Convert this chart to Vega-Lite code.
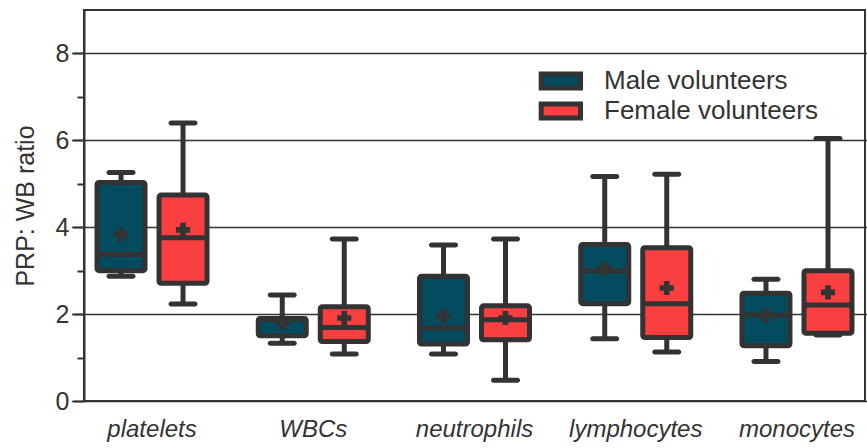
{
  "$schema": "https://vega.github.io/schema/vega-lite/v6.json",
  "width": 781,
  "height": 391,
  "autosize": {"type": "none"},
  "padding": {"left": 84, "top": 10, "right": 2, "bottom": 47},
  "background": "white",
  "config": {
    "font": "Liberation Sans",
    "view": {"stroke": "#333333", "strokeWidth": 2},
    "axis": {"labelColor": "#333333", "titleColor": "#333333"}
  },
  "data": {
    "values": [
      {"cell": "platelets", "sex": "Male volunteers", "min": 2.87, "q1": 3.0, "median": 3.37, "q3": 5.03, "max": 5.26, "mean": 3.83},
      {"cell": "platelets", "sex": "Female volunteers", "min": 2.23, "q1": 2.71, "median": 3.76, "q3": 4.74, "max": 6.4, "mean": 3.94},
      {"cell": "WBCs", "sex": "Male volunteers", "min": 1.33, "q1": 1.5, "median": 1.88, "q3": 1.9, "max": 2.44, "mean": 1.8},
      {"cell": "WBCs", "sex": "Female volunteers", "min": 1.08, "q1": 1.37, "median": 1.69, "q3": 2.17, "max": 3.73, "mean": 1.91},
      {"cell": "neutrophils", "sex": "Male volunteers", "min": 1.08, "q1": 1.31, "median": 1.68, "q3": 2.87, "max": 3.59, "mean": 1.96},
      {"cell": "neutrophils", "sex": "Female volunteers", "min": 0.48, "q1": 1.41, "median": 1.87, "q3": 2.19, "max": 3.73, "mean": 1.91},
      {"cell": "lymphocytes", "sex": "Male volunteers", "min": 1.43, "q1": 2.24, "median": 3.0, "q3": 3.6, "max": 5.17, "mean": 3.04},
      {"cell": "lymphocytes", "sex": "Female volunteers", "min": 1.13, "q1": 1.46, "median": 2.24, "q3": 3.53, "max": 5.22, "mean": 2.6},
      {"cell": "monocytes", "sex": "Male volunteers", "min": 0.91, "q1": 1.27, "median": 1.98, "q3": 2.48, "max": 2.8, "mean": 1.97},
      {"cell": "monocytes", "sex": "Female volunteers", "min": 1.52, "q1": 1.56, "median": 2.21, "q3": 3.0, "max": 6.04, "mean": 2.5}
    ]
  },
  "encoding": {
    "x": {
      "field": "cell",
      "type": "nominal",
      "sort": ["platelets", "WBCs", "neutrophils", "lymphocytes", "monocytes"],
      "scale": {"range": [-12.6, 793.6], "paddingInner": 0, "paddingOuter": 0},
      "axis": {
        "title": null,
        "labelAngle": 0,
        "labelFontSize": 24,
        "labelFontStyle": "italic",
        "labelPadding": 16,
        "ticks": false,
        "domain": false
      }
    },
    "xOffset": {
      "field": "sex",
      "type": "nominal",
      "sort": ["Male volunteers", "Female volunteers"],
      "scale": {"paddingInner": 0, "paddingOuter": 0.3}
    }
  },
  "layer": [
    {
      "mark": {"type": "rule", "color": "#333333", "strokeWidth": 5},
      "encoding": {
        "y": {
          "field": "min",
          "type": "quantitative",
          "scale": {"domain": [0, 9], "nice": false},
          "axis": {
            "title": "PRP: WB ratio",
            "titleFontSize": 25,
            "titleFontWeight": "normal",
            "titleX": -59,
            "titleBaseline": "middle",
            "values": [0, 1, 2, 3, 4, 5, 6, 7, 8],
            "labelExpr": "datum.value % 2 == 0 ? datum.label : ''",
            "labelFontSize": 25,
            "labelPadding": 4,
            "tickColor": "#333333",
            "tickWidth": 2,
            "tickSize": {"condition": {"test": "datum.value % 2 == 1", "value": 7}, "value": 11},
            "domainColor": "#333333",
            "domainWidth": 2,
            "grid": true,
            "gridColor": "#333333",
            "gridWidth": 1.5,
            "gridOpacity": {"condition": {"test": "datum.value % 2 == 1", "value": 0}, "value": 1}
          }
        },
        "y2": {"field": "max"}
      }
    },
    {
      "mark": {"type": "tick", "color": "#333333", "thickness": 5, "size": 29, "cornerRadius": 2.5, "opacity": 1},
      "encoding": {"y": {"field": "min", "type": "quantitative"}}
    },
    {
      "mark": {"type": "tick", "color": "#333333", "thickness": 5, "size": 29, "cornerRadius": 2.5, "opacity": 1},
      "encoding": {"y": {"field": "max", "type": "quantitative"}}
    },
    {
      "mark": {"type": "bar", "size": 48, "stroke": "#333333", "strokeWidth": 5, "cornerRadius": 2, "opacity": 1},
      "encoding": {
        "y": {"field": "q1", "type": "quantitative"},
        "y2": {"field": "q3"},
        "fill": {
          "field": "sex",
          "type": "nominal",
          "sort": ["Male volunteers", "Female volunteers"],
          "scale": {"domain": ["Male volunteers", "Female volunteers"], "range": ["#034B5E", "#F93F3F"]},
          "legend": {
            "title": null,
            "orient": "none",
            "legendX": 453,
            "legendY": 56,
            "padding": 0,
            "symbolType": "M-1.5,-1.2H5.2V1.2H-1.5Z",
            "symbolSize": 138,
            "symbolStrokeColor": "#333333",
            "symbolStrokeWidth": 5,
            "symbolOpacity": 1,
            "labelFontSize": 26,
            "labelColor": "#333333",
            "labelOffset": 41,
            "rowPadding": 0,
            "clipHeight": 30,
            "labelLimit": 400
          }
        }
      }
    },
    {
      "mark": {"type": "tick", "color": "#333333", "thickness": 5, "size": 50, "opacity": 1},
      "encoding": {"y": {"field": "median", "type": "quantitative"}}
    },
    {
      "mark": {"type": "point", "shape": "cross", "filled": true, "color": "#333333", "size": 200, "opacity": 1},
      "encoding": {"y": {"field": "mean", "type": "quantitative"}}
    }
  ]
}
